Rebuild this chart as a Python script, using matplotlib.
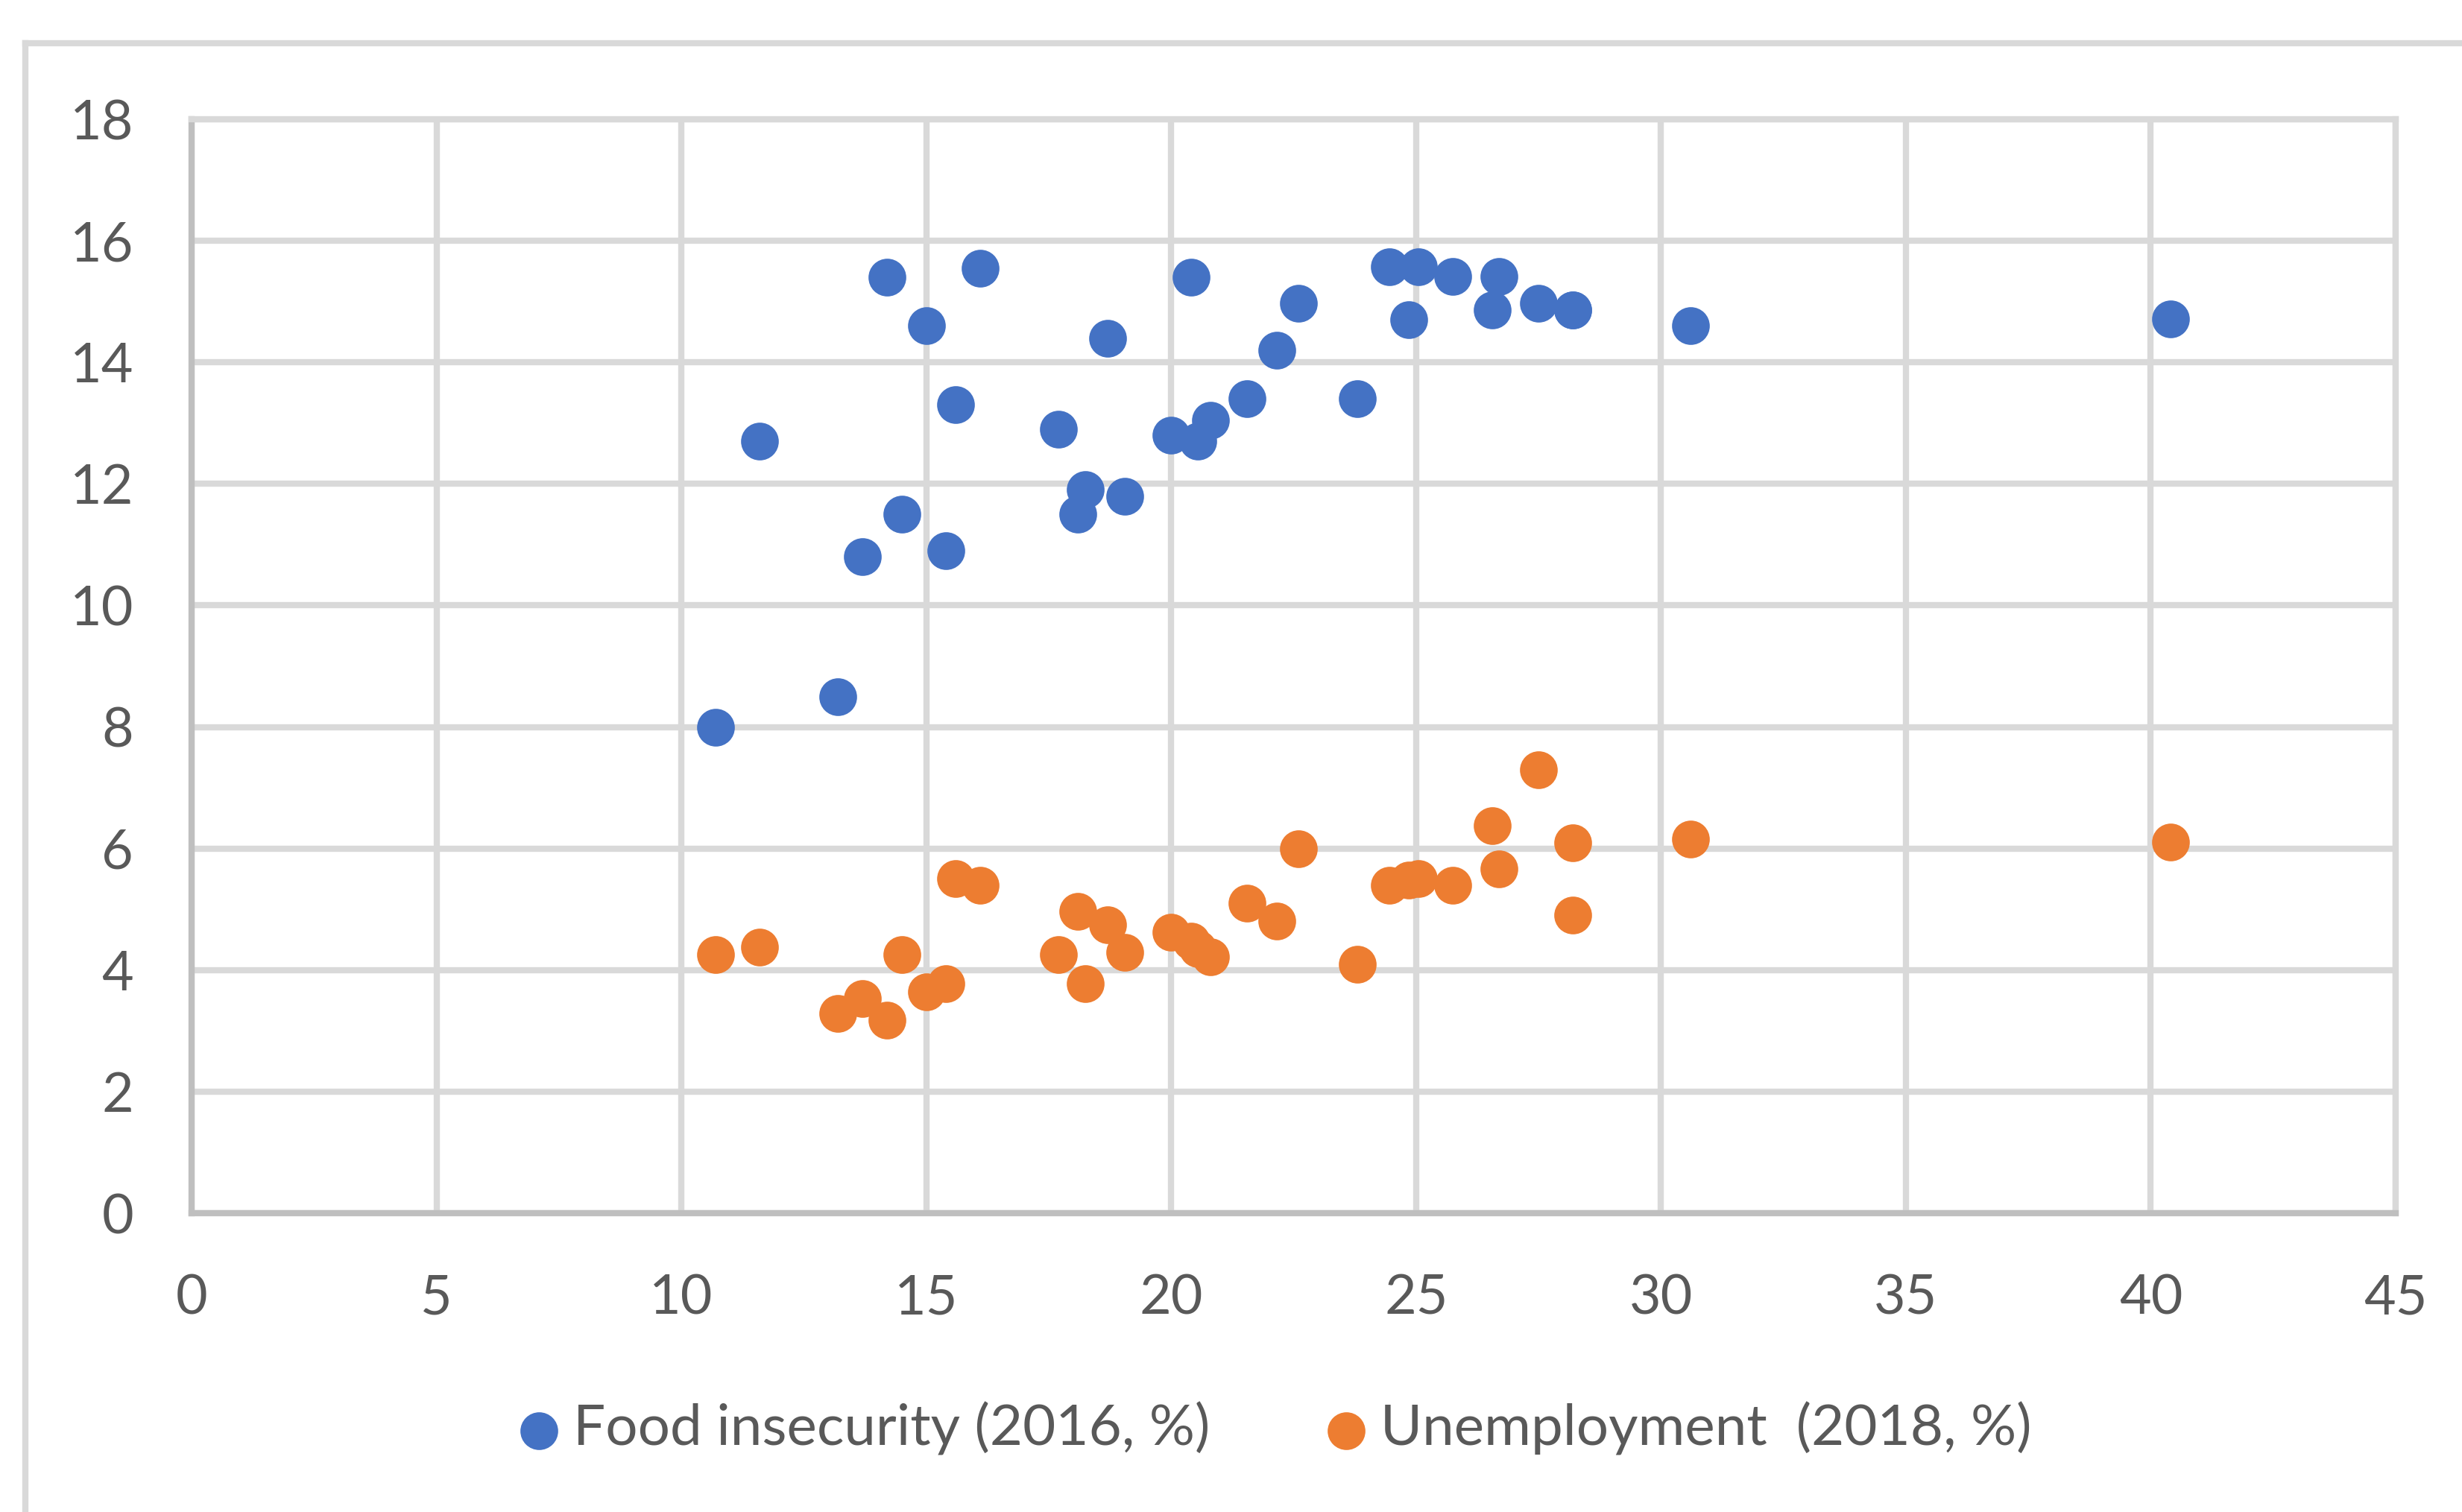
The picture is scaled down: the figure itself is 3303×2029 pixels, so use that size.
import numpy as np
import matplotlib.pyplot as plt
from matplotlib.lines import Line2D

plt.rcParams['font.family'] = ['Lato', 'DejaVu Sans']

# shared x values (one per region), two series on y
x_vals = [10.7, 11.6, 13.2, 13.7, 14.2, 14.5, 15.0, 15.4, 15.6, 16.1,
          17.7, 18.1, 18.25, 18.7, 19.05, 20.0, 20.4, 20.55, 20.8, 21.55,
          22.15, 22.6, 23.8, 24.45, 24.85, 25.05, 25.75, 26.55, 26.7, 27.5,
          28.2, 28.2, 30.6, 40.4]
food_insecurity = [8.0, 12.7, 8.5, 10.8, 15.4, 11.5, 14.6, 10.9, 13.3, 15.55,
                   12.9, 11.5, 11.9, 14.4, 11.8, 12.8, 15.4, 12.7, 13.05, 13.4,
                   14.2, 14.97, 13.4, 15.57, 14.7, 15.57, 15.41, 14.86, 15.41, 14.97,
                   14.86, 14.86, 14.6, 14.72]
unemployment = [4.26, 4.38, 3.29, 3.53, 3.17, 4.26, 3.64, 3.78, 5.5, 5.4,
                4.25, 4.96, 3.78, 4.74, 4.29, 4.62, 4.47, 4.35, 4.22, 5.1,
                4.81, 6.0, 4.09, 5.4, 5.48, 5.5, 5.4, 6.38, 5.67, 7.29,
                6.09, 4.91, 6.16, 6.11]

labels = ['Food insecurity (2016, %)', 'Unemployment  (2018, %)']
colors = ['#4472C4', '#ED7D31']
x_ticks = np.arange(0, 46, 5)
y_ticks = np.arange(0, 19, 2)

W, H = 3303, 2029
fig = plt.figure(figsize=(W / 100, H / 100), dpi=100)
ax = fig.add_axes([257 / W, 1 - 1628 / H, (3214 - 257) / W, (1628 - 160) / H])

grid_c = '#D9D9D9'
axis_c = '#BFBFBF'
text_c = '#595959'

ax.scatter(x_vals, food_insecurity, s=1330, color=colors[0], linewidths=0, zorder=3, label=labels[0])
ax.scatter(x_vals, unemployment, s=1330, color=colors[1], linewidths=0, zorder=3, label=labels[1])

ax.set_xlim(0, 45)
ax.set_ylim(0, 18)
ax.set_xticks(x_ticks)
ax.set_yticks(y_ticks)
ax.grid(True, color=grid_c, linewidth=6)
ax.set_axisbelow(True)
for side in ['top', 'right']:
    ax.spines[side].set_color(grid_c)
    ax.spines[side].set_linewidth(6)
for side in ['left', 'bottom']:
    ax.spines[side].set_color(axis_c)
    ax.spines[side].set_linewidth(6)
ax.tick_params(length=0, labelsize=53, labelcolor=text_c)
ax.tick_params(axis='y', pad=56)
ax.tick_params(axis='x', pad=59)

# chart frame
fx = 34 / W
fy = 1 - 58 / H
fig.add_artist(Line2D([fx, 1.0], [fy, fy], color=grid_c, linewidth=6, transform=fig.transFigure))
fig.add_artist(Line2D([fx, fx], [0.0, fy], color=grid_c, linewidth=6, transform=fig.transFigure))

fig.legend(loc='center', bbox_to_anchor=(1709 / W, 1 - 1917 / H), ncol=2, frameon=False,
           fontsize=55, labelcolor=text_c, handletextpad=0.2, columnspacing=2.0,
           markerscale=1.0, handlelength=0.8, borderaxespad=0)

fig.savefig('out.png', dpi=100, facecolor='white')
